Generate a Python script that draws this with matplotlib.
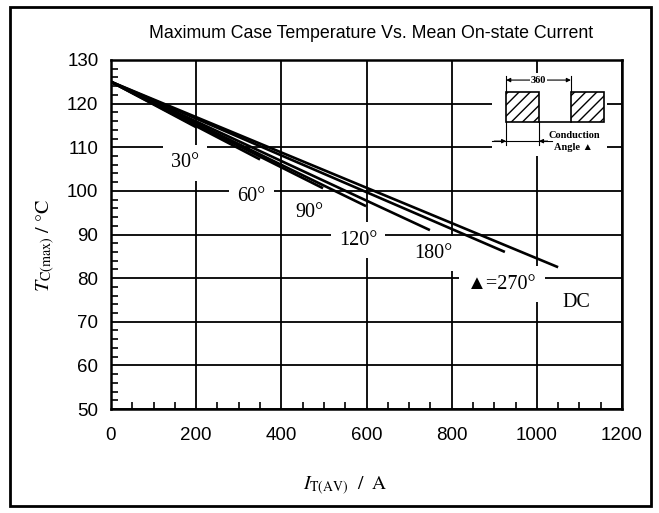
import matplotlib
matplotlib.use("Agg")
import matplotlib.pyplot as plt
from matplotlib.patches import Rectangle
from matplotlib.ticker import MultipleLocator

# curves: all start at (0, 125) and run straight to an end point
angles = ["30°", "60°", "90°", "120°", "180°", "▲=270°", "DC"]
i_start = 0
t_start = 125
i_end = [200, 350, 498, 599, 749, 925, 1050]
t_end = [114.6, 107.2, 100.6, 96.5, 91.0, 86.0, 82.5]

# where the angle labels sit
lab_i = [174, 330, 467, 580, 757, 918, 1094]
lab_t = [106.4, 98.6, 95.1, 88.7, 85.7, 78.6, 74.3]

x_ticks = [0, 200, 400, 600, 800, 1000, 1200]
y_ticks = [50, 60, 70, 80, 90, 100, 110, 120, 130]

plt.rcParams['mathtext.fontset'] = 'stix'

fig = plt.figure(figsize=(6.59, 5.13), dpi=100)
ax = fig.add_axes([111/659, 1-409/513, 511/659, 349/513])

ax.set_xlim(0, 1200)
ax.set_ylim(50, 130)
ax.set_xticks(x_ticks)
ax.set_yticks(y_ticks)
ax.xaxis.set_minor_locator(MultipleLocator(50))
ax.yaxis.set_minor_locator(MultipleLocator(2))
ax.tick_params(which='major', length=0, pad=13, labelsize=13.5)
ax.tick_params(axis='y', which='major', pad=9)
ax.tick_params(which='minor', direction='in', length=5, width=1.2)
for lab in ax.get_xticklabels() + ax.get_yticklabels():
    lab.set_family('Liberation Sans')
ax.grid(True, which='major', color='black', lw=1.3, zorder=1)
for s in ax.spines.values():
    s.set_linewidth(1.8)

for ie, te in zip(i_end, t_end):
    ax.plot([i_start, ie], [t_start, te], color='black', lw=1.9,
            solid_capstyle='butt', zorder=3)

for name, li, lt in zip(angles, lab_i, lab_t):
    box = dict(facecolor='white', edgecolor='none', pad=6)
    if name == "DC":
        box = None
    ax.text(li, lt, name, ha='center', va='center', fontsize=14.5,
            family=['Liberation Serif', 'DejaVu Sans'], bbox=box, zorder=2)

# conduction angle sketch in the top right corner
ax.add_patch(Rectangle((895, 108), 270, 19, facecolor='white',
                       edgecolor='none', zorder=2))
for x0 in (928, 1080):
    ax.add_patch(Rectangle((x0, 115.8), 78, 6.9, facecolor='white',
                           edgecolor='black', hatch='///', lw=1.2, zorder=4))
ax.plot([1006, 1080], [115.8, 115.8], color='black', lw=1.2, zorder=4)
for xe in (928, 1080):
    ax.plot([xe, xe], [122.7, 126.3], color='black', lw=0.8, zorder=4)
ax.annotate('', xy=(928, 125.4), xytext=(1080, 125.4),
            arrowprops=dict(arrowstyle='<|-|>', lw=0.8, color='black',
                            mutation_scale=6, shrinkA=0, shrinkB=0), zorder=4)
ax.text(1004, 125.4, '360', ha='center', va='center', fontsize=7.5,
        fontweight='bold', family='Liberation Serif',
        bbox=dict(facecolor='white', edgecolor='none', pad=0.5), zorder=5)
for xe in (928, 1005):
    ax.plot([xe, xe], [115.8, 110.5], color='black', lw=0.8, zorder=4)
ax.plot([895, 1035], [111.4, 111.4], color='black', lw=0.8, zorder=4)
ax.annotate('', xy=(928, 111.4), xytext=(900, 111.4),
            arrowprops=dict(arrowstyle='-|>', lw=0.8, color='black',
                            mutation_scale=6, shrinkA=0, shrinkB=0), zorder=4)
ax.annotate('', xy=(1005, 111.4), xytext=(1033, 111.4),
            arrowprops=dict(arrowstyle='-|>', lw=0.8, color='black',
                            mutation_scale=6, shrinkA=0, shrinkB=0), zorder=4)
ax.text(1088, 112.7, 'Conduction', ha='center', va='center', fontsize=7.5,
        fontweight='bold', family='Liberation Serif',
        bbox=dict(facecolor='white', edgecolor='none', pad=0.5), zorder=5)
ax.text(1085, 110.0, 'Angle ▲', ha='center', va='center', fontsize=7.5,
        fontweight='bold', family=['Liberation Serif', 'DejaVu Sans'], zorder=5)

fig.text(371/659, 1-33/513, 'Maximum Case Temperature Vs. Mean On-state Current',
         ha='center', va='center', fontsize=12.8, family='Liberation Sans')
fig.text(46/659, 1-245/513, r'$T_{\mathrm{C(max)}}\ /\ \mathrm{°C}$',
         ha='center', va='center', rotation=90, fontsize=14.5)
fig.text(345/659, 1-486/513, r'$I_{\mathrm{T(AV)}}\ \ /\ \ \mathrm{A}$',
         ha='center', va='center', fontsize=14)

fig.patches.append(Rectangle((10/659, 1-506/513), 641/659, 499/513,
                             transform=fig.transFigure, fill=False,
                             edgecolor='black', lw=2))

fig.savefig('out.png', dpi=100)
